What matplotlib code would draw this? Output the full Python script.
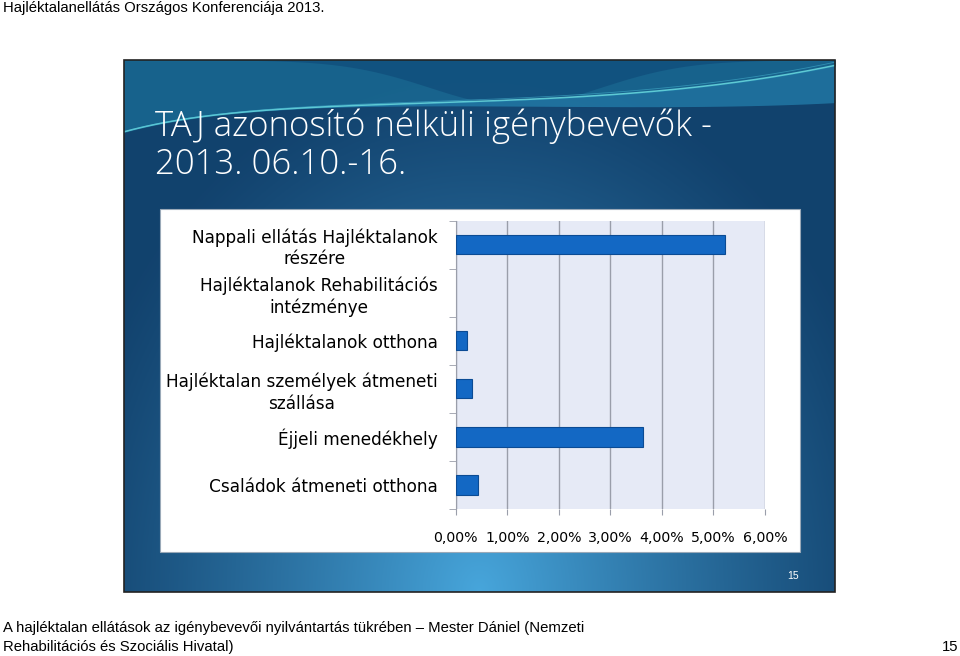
import numpy as np
import matplotlib
matplotlib.use("Agg")
import matplotlib.pyplot as plt
from matplotlib.patches import Rectangle
from matplotlib.ticker import FixedLocator

categories = [
    "Nappali ellátás Hajléktalanok\nrészére",
    "Hajléktalanok Rehabilitációs\nintézménye",
    "Hajléktalanok otthona",
    "Hajléktalan személyek átmeneti\nszállása",
    "Éjjeli menedékhely",
    "Családok átmeneti otthona",
]
values = [5.22, 0.0, 0.22, 0.31, 3.64, 0.44]
xticks = [0, 1, 2, 3, 4, 5, 6]
xtick_labels = ["0,00%", "1,00%", "2,00%", "3,00%", "4,00%", "5,00%", "6,00%"]

header = "Hajléktalanellátás Országos Konferenciája 2013."
title = "TAJ azonosító nélküli igénybevevők -\n2013. 06.10.-16."
footer1 = "A hajléktalan ellátások az igénybevevői nyilvántartás tükrében – Mester Dániel (Nemzeti"
footer2 = "Rehabilitációs és Szociális Hivatal)"
page = "15"

W, H = 960, 656
fig = plt.figure(figsize=(W / 100, H / 100), dpi=100)
fig.patch.set_facecolor("white")

def fx(x):
    return x / W

def fy(y):
    return 1 - y / H

# ---- blue slide panel ----
px0, px1, py0, py1 = 124, 835, 60, 592
bg = fig.add_axes([fx(px0), fy(py1), fx(px1 - px0), (py1 - py0) / H], zorder=0)
bg.set_xlim(0, 1)
bg.set_ylim(0, 1)
bg.axis("off")
nx, ny = 400, 300
gx, gy = np.meshgrid(np.linspace(0, 1, nx), np.linspace(0, 1, ny))
d = np.sqrt(((gx - 0.5) / 0.6) ** 2 + ((gy - 0.0) / 1.0) ** 2)
t = np.clip(1 - d, 0, 1) ** 1.2
dark = np.array([0.07, 0.26, 0.43])
bright = np.array([0.28, 0.65, 0.86])
img = dark[None, None, :] * (1 - t[..., None]) + bright[None, None, :] * t[..., None]
bg.imshow(img, extent=[0, 1, 0, 1], origin="lower", aspect="auto", zorder=0)
# decorative waves at top
xs = np.linspace(0, 1, 400)
line1 = 0.865 + 0.055 * (1 - np.exp(-xs / 0.15)) + 0.07 * xs ** 4
bg.fill_between(xs, line1, 1.0, color=(0.11, 0.47, 0.63), alpha=0.6, zorder=1)
swoosh_lo = 1.0 - 0.085 * np.exp(-((xs - 0.55) / 0.17) ** 2)
bg.fill_between(xs, np.maximum(swoosh_lo, line1), 1.0, color=(0.06, 0.29, 0.47),
                alpha=0.65, zorder=1, lw=0)
bg.fill_between(xs, line1 - 0.07 * xs ** 3, line1, color=(0.16, 0.58, 0.76),
                alpha=0.55, zorder=1, lw=0)
bg.plot(xs, line1, color=(0.42, 0.86, 0.88), lw=1.1, alpha=0.85, zorder=2)
bg.plot(xs, line1 + 0.006 * xs, color=(0.30, 0.75, 0.85), lw=0.6, alpha=0.5, zorder=2)

# title
bg.text(0.044, 0.908, title, color="white", fontsize=25, family="Open Sans",
        fontweight="light", va="top", ha="left", linespacing=1.12, zorder=10,
        transform=bg.transAxes)

fig.patches.append(Rectangle((fx(px0), fy(py1)), fx(px1 - px0), (py1 - py0) / H,
                             transform=fig.transFigure, fill=False,
                             edgecolor="#222222", lw=1.2, zorder=5))

# white chart box
fig.patches.append(Rectangle((fx(160), fy(552)), fx(800 - 160), (552 - 209) / H,
                             transform=fig.transFigure, facecolor="white",
                             edgecolor="#9aa9b8", lw=0.8, zorder=3))

# ---- bar chart ----
ax = fig.add_axes([fx(455.7), fy(509), fx(765 - 455.7), (509 - 220.7) / H], zorder=4)
ax.set_facecolor("#E6EAF6")
y = np.arange(len(categories))
ax.barh(y, values, height=0.4, color="#1368C4", edgecolor="#0B4B94",
        linewidth=[0.8 if v > 0 else 0 for v in values], zorder=3)
ax.set_xlim(0, 6)
ax.set_ylim(len(categories) - 0.5, -0.5)
ax.set_xticks(xticks)
ax.set_xticklabels(xtick_labels, fontsize=10.2, family="DejaVu Sans")
ax.xaxis.grid(True, color="#9A9EAA", lw=1.0, zorder=1)
ax.set_axisbelow(True)
ax.set_yticks(y)
ax.set_yticklabels(categories, fontsize=12.2, family="DejaVu Sans", multialignment="center",
                   linespacing=1.25)
ax.tick_params(axis="y", length=0, pad=13)
ax.yaxis.set_minor_locator(FixedLocator(np.arange(-0.5, len(categories) + 0.5, 1)))
ax.tick_params(axis="y", which="minor", length=5, color="#9A9EAA")
ax.tick_params(axis="x", length=4, color="#9A9EAA", pad=12)
for side in ["top", "right", "bottom"]:
    ax.spines[side].set_visible(False)
ax.spines["left"].set_color("#9A9EAA")

# page number in slide
fig.text(fx(793), fy(576), page, color="white", fontsize=7.5, family="Liberation Sans",
         ha="center", va="center")

# header & footer
fig.text(fx(3), fy(8), header, fontsize=10.7, family="Liberation Sans", ha="left", va="center")
fig.text(fx(3), fy(628), footer1, fontsize=10.7, family="Liberation Sans", ha="left", va="center")
fig.text(fx(3), fy(647), footer2, fontsize=10.7, family="Liberation Sans", ha="left", va="center")
fig.text(fx(958), fy(647), page, fontsize=10.7, family="Liberation Sans", ha="right", va="center")

fig.savefig("out.png", dpi=100)
